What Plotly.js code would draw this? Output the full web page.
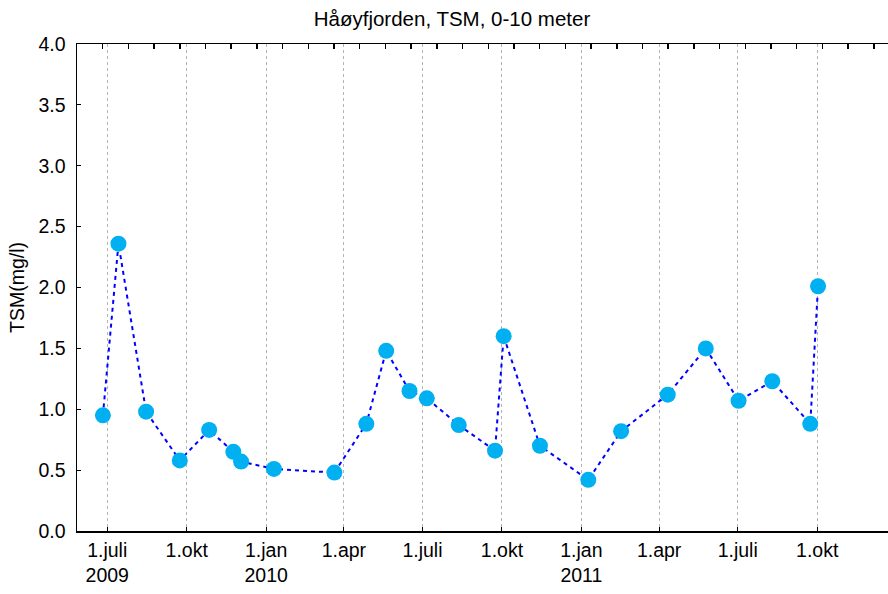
<!DOCTYPE html>
<html>
<head>
<meta charset="utf-8">
<script src="https://cdn.plot.ly/plotly-3.0.1.min.js"></script>
<style>html,body{margin:0;padding:0;background:#fff;}#chart{width:888px;height:594px;}</style>
</head>
<body>
<div id="chart"></div>
<script>
const dates = ["2009-06-26","2009-07-14","2009-08-15","2009-09-23","2009-10-27","2009-11-24","2009-12-03",
  "2010-01-10","2010-03-21","2010-04-27","2010-05-20","2010-06-16","2010-07-06","2010-08-12","2010-09-23",
  "2010-10-03","2010-11-14","2011-01-09","2011-02-16","2011-04-11","2011-05-25","2011-07-02","2011-08-10",
  "2011-09-23","2011-10-02"];
const tsm = [0.95,2.36,0.98,0.58,0.83,0.65,0.57,0.51,0.48,0.88,1.48,1.15,1.09,0.87,0.66,1.60,0.70,0.42,0.82,1.12,1.50,1.07,1.23,0.88,2.01];
const tickDates = ["2009-07-01","2009-10-01","2010-01-01","2010-04-01","2010-07-01","2010-10-01","2011-01-01","2011-04-01","2011-07-01","2011-10-01"];
const tickLabels = ["1.juli<br>2009","1.okt","1.jan<br>2010","1.apr","1.juli","1.okt","1.jan<br>2011","1.apr","1.juli","1.okt"];
const yTicks = [0,0.5,1.0,1.5,2.0,2.5,3.0,3.5,4.0];
const yTickLabels = ["0.0","0.5","1.0","1.5","2.0","2.5","3.0","3.5","4.0"];
const xRange = ["2009-05-27","2011-12-22"];

const trace = {
  x: dates, y: tsm, type: "scatter", mode: "lines+markers",
  line: {color: "#0000ff", width: 2, dash: "4px,4px"},
  marker: {color: "#00b0f0", size: 16},
  showlegend: false, hoverinfo: "x+y"
};
const topDummy = {x: xRange, y: [null,null], xaxis: "x2", yaxis: "y", type: "scatter", mode: "lines", showlegend: false, hoverinfo: "skip"};

const layout = {
  width: 888, height: 594,
  margin: {l: 77, r: 0, t: 44, b: 63},
  paper_bgcolor: "#fff", plot_bgcolor: "#fff",
  font: {family: "Liberation Sans, Arial, sans-serif", color: "#000", size: 19.5},
  title: {text: "Håøyfjorden, TSM, 0-10 meter", x: 0.509, xanchor: "center", y: 0.969, yanchor: "middle",
          font: {size: 20.5, family: "Liberation Sans, Arial, sans-serif", color: "#000"}},
  xaxis: {
    type: "date", range: xRange,
    tickmode: "array", tickvals: tickDates, ticktext: tickLabels,
    ticks: "inside", ticklen: 4, tickwidth: 1, tickcolor: "#000",
    showline: true, linecolor: "#000", linewidth: 1.5,
    showgrid: true, gridcolor: "#b4b4b4", gridwidth: 1, griddash: "dot",
    zeroline: false, tickfont: {size: 19.5}, ticklabelstandoff: 1
  },
  xaxis2: {
    type: "date", range: xRange, overlaying: "x", side: "top",
    tick0: "2009-05-27", dtick: 29.76*86400000,
    ticks: "inside", ticklen: 5, tickwidth: 1.5, tickcolor: "#000",
    showticklabels: false, showline: true, linecolor: "#000", linewidth: 1.5,
    showgrid: false, zeroline: false
  },
  yaxis: {
    range: [0, 4.0], tickmode: "array", tickvals: yTicks, ticktext: yTickLabels,
    ticks: "inside", ticklen: 4, tickwidth: 1, tickcolor: "#000",
    showline: true, linecolor: "#000", linewidth: 1.5,
    showgrid: false, zeroline: false, tickfont: {size: 19.5},
    ticklabelstandoff: 6,
    title: {text: "TSM(mg/l)", font: {size: 19.5}, standoff: 8}
  }
};
Plotly.newPlot("chart", [trace, topDummy], layout, {staticPlot: true});
</script>
</body>
</html>
